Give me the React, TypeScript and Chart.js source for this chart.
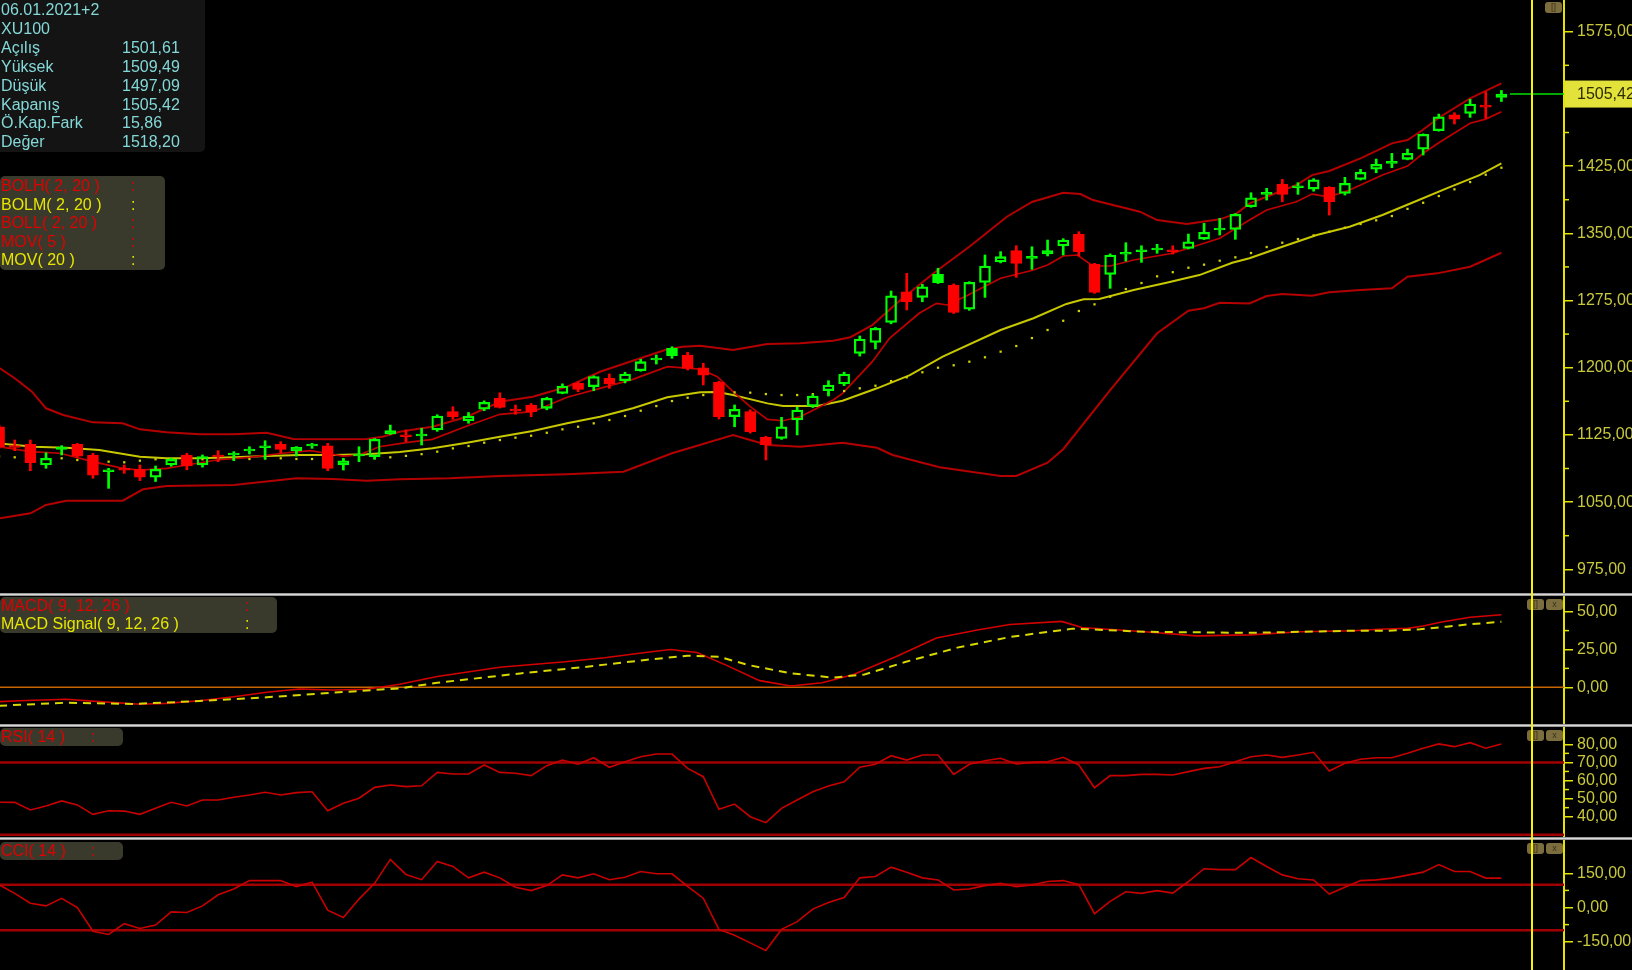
import React, { useEffect, useRef } from 'react';
import { Chart, registerables } from 'chart.js';

Chart.register(...registerables);

// ---------------- DATA ----------------
const opens = [1134.1, 1112.5, 1114.5, 1091.4, 1109.5, 1114.5, 1102.6, 1084.5, 1087.2, 1086.6,
  1077.7, 1091.4, 1102.6, 1091.4, 1101.9, 1103.2, 1107.6, 1111.3, 1114.5, 1107.4,
  1113.2, 1112.9, 1091.4, 1102.1, 1100.7, 1126.0, 1124.6, 1124.4, 1130.5, 1150.9,
  1140.8, 1153.6, 1165.8, 1153.3, 1158.4, 1154.7, 1171.4, 1182.6, 1178.8, 1188.2,
  1185.5, 1196.6, 1209.2, 1213.4, 1214.2, 1200.0, 1183.7, 1145.3, 1150.9, 1122.3,
  1121.2, 1141.6, 1157.2, 1174.3, 1181.8, 1216.0, 1228.3, 1250.6, 1284.8, 1278.5,
  1294.8, 1292.3, 1265.2, 1295.3, 1318.0, 1330.6, 1322.7, 1326.9, 1336.0, 1348.9,
  1315.7, 1304.2, 1327.2, 1330.1, 1332.0, 1331.1, 1333.2, 1343.6, 1354.3, 1354.4,
  1379.7, 1394.1, 1404.7, 1401.5, 1399.4, 1401.3, 1394.4, 1410.2, 1421.7, 1428.7,
  1432.6, 1444.0, 1464.5, 1482.3, 1483.9, 1492.5, 1501.61];
const highs = [1136, 1119.3, 1119.3, 1105.1, 1113, 1115.5, 1104.5, 1087.7, 1091.4, 1091.4,
  1090.3, 1099, 1104.5, 1102.6, 1107.4, 1106.3, 1111.8, 1118.5, 1117.4, 1112,
  1115.6, 1115.6, 1098.9, 1111.8, 1121, 1136, 1130.5, 1132.4, 1147.5, 1156.5,
  1150, 1163, 1172, 1158.4, 1160, 1167, 1182, 1184, 1191, 1193,
  1195, 1209.4, 1214.2, 1223.4, 1217.2, 1204.9, 1185, 1158.4, 1153, 1123.5,
  1144.6, 1155.8, 1170, 1185.5, 1195, 1235.4, 1245, 1285.6, 1305.3, 1293,
  1311, 1293.5, 1296, 1325.8, 1329.5, 1336.1, 1335, 1342.5, 1344, 1351.8,
  1316.5, 1327, 1339.5, 1336.1, 1337.7, 1336.1, 1349.2, 1361.1, 1366.7, 1372,
  1395.3, 1400.2, 1410.2, 1406.5, 1411, 1402, 1412.5, 1421.4, 1432.9, 1439.3,
  1444, 1461, 1483.1, 1484.6, 1499.5, 1508, 1509.49];
const lows = [1110, 1107.4, 1085, 1087.7, 1102.6, 1100, 1076.6, 1065.4, 1082.1, 1074,
  1073, 1090, 1086, 1089, 1095.1, 1096.2, 1103.7, 1097.8, 1105.1, 1101.4,
  1110, 1085, 1085.8, 1095.1, 1098, 1125.5, 1117.4, 1113.7, 1129, 1142.4,
  1138, 1152, 1155, 1148, 1145.3, 1153, 1170.9, 1173.2, 1174.3, 1177,
  1183, 1196, 1204.1, 1210.5, 1197.4, 1180.7, 1142.7, 1134.1, 1127, 1097,
  1120, 1124.9, 1155.5, 1168.4, 1180, 1213, 1220.9, 1249, 1264.4, 1273.6,
  1294, 1260.5, 1264, 1278.5, 1317, 1300.9, 1309.8, 1324.7, 1325.8, 1324.7,
  1283, 1288.6, 1319, 1317.6, 1327.7, 1326.9, 1332.5, 1343, 1348.1, 1343.3,
  1379, 1387.1, 1385.2, 1393.5, 1397, 1370.4, 1392.7, 1409.5, 1417.6, 1423.2,
  1432, 1437.4, 1464, 1472, 1479.4, 1478.3, 1497.09];
const closes = [1111.8, 1111.5, 1094, 1098.9, 1110.5, 1101.4, 1080.2, 1085.5, 1086.2, 1077.7,
  1086.6, 1097.8, 1090.3, 1100.7, 1100.9, 1104.2, 1108.6, 1112.3, 1108.9, 1111.2,
  1114.2, 1087.7, 1096.2, 1103.1, 1120.1, 1129.7, 1123.6, 1125.4, 1146.1, 1145.3,
  1146.1, 1161.4, 1155.8, 1152.3, 1150.9, 1165.8, 1179.6, 1175.9, 1190, 1181.8,
  1193, 1206.7, 1210.2, 1221.6, 1199.3, 1191.8, 1145.3, 1153.6, 1128.6, 1113.7,
  1134.1, 1152.8, 1168.4, 1180.7, 1193, 1232, 1244, 1280.3, 1273.6, 1290.4,
  1304.2, 1261.8, 1295.3, 1313.5, 1323.9, 1316.5, 1323.7, 1330.6, 1342.5, 1329.5,
  1284.1, 1325.8, 1328.2, 1331.1, 1333, 1330.1, 1340.6, 1351.1, 1355.3, 1371.2,
  1389.7, 1395.1, 1393.5, 1402.5, 1409.8, 1385.2, 1405.8, 1418, 1427, 1429.7,
  1439.3, 1460.5, 1480.1, 1477.5, 1494.3, 1491.5, 1505.42];
const filledUpBars = [25, 43, 60, 67];

const mov20 = [1101, 1100, 1099.5, 1099, 1098.9, 1097, 1096, 1095.1, 1094.4, 1096.2,
  1097.8, 1097, 1097.8, 1097.8, 1097.8, 1098.1, 1098.1, 1098.9, 1098.9, 1098.1,
  1098.1, 1097.5, 1097, 1097, 1098.9, 1100, 1101.6, 1103.5, 1106.3, 1110,
  1112.6, 1116.3, 1119.3, 1121.9, 1124.1, 1127.4, 1131.2, 1134.1, 1137.9, 1141.6,
  1146.1, 1152, 1157.2, 1162.8, 1166.5, 1169.5, 1171, 1172.5, 1172.1, 1170.6,
  1169.5, 1169.5, 1170.5, 1171.4, 1174, 1177, 1179.9, 1185.1, 1189.3, 1194.9,
  1200, 1202.7, 1206.7, 1211.6, 1217.9, 1224.2, 1233.1, 1242.1, 1252.4, 1263.3,
  1270.7, 1279.2, 1287.8, 1294.5, 1302, 1306.6, 1311.6, 1315, 1319.4, 1323.2,
  1328, 1334.7, 1339.5, 1343.6, 1347.7, 1351.8, 1356.2, 1360.4, 1364.5, 1369.3,
  1377.3, 1384.1, 1391.6, 1399.1, 1407.2, 1415.4, 1423.2];

// [bar position, value]
const bolUpper = [[0, 1200], [1, 1188.2], [2.1, 1173.2], [3, 1154.7], [4.1, 1147.2], [6, 1139], [7.9, 1137.9], [9, 1131.2], [10.7, 1127.9], [12.8, 1125.6], [15, 1125.6], [17.1, 1127.5], [18.8, 1120.4], [21.3, 1120.1], [23.5, 1120.4], [24.5, 1123], [25.6, 1128.6], [26.7, 1131.6], [27.7, 1134.1], [29.9, 1145.3], [32, 1162], [34.1, 1167.6], [36.3, 1178.8], [38.4, 1195.5], [40.5, 1207.8], [42.7, 1220.5], [43.7, 1223.4], [44.8, 1224.5], [46.9, 1219.7], [49.1, 1226.4], [51.2, 1227.2], [53.3, 1230.1], [54.4, 1234], [55.8, 1247.6], [57.6, 1275.5], [59.9, 1308], [62, 1335], [64.4, 1368.5], [66, 1385], [68, 1395.3], [69.1, 1393.8], [69.9, 1387.1], [72.9, 1374.1], [74, 1364.8], [75.9, 1360.4], [78, 1365.6], [79.1, 1372.3], [79.9, 1383.4], [81, 1390.8], [82.9, 1403.9], [83.9, 1415], [85, 1419.5], [87, 1433.7], [89, 1450.4], [90, 1454.1], [90.9, 1464.5], [92.1, 1480.1], [94, 1500.6], [96, 1517.4]];
const bolMid = [[0, 1115.5], [2.2, 1111.8], [4.3, 1110.7], [6.4, 1108.1], [9, 1100.7], [10.7, 1098.9], [12.8, 1098.9], [15, 1100], [17.1, 1101.4], [19.2, 1102.6], [21.3, 1102.6], [23.5, 1103.3], [25.6, 1106], [27.7, 1110], [29.9, 1116.3], [32, 1123], [34.1, 1129.3], [36.3, 1137.9], [38.4, 1145.3], [40.5, 1154.7], [42.7, 1167], [44.8, 1172.5], [45.9, 1173], [46.9, 1169.5], [49.1, 1160.2], [50.1, 1157.2], [52.3, 1157.2], [53.9, 1163.2], [56.1, 1177], [58.2, 1191.8], [60.3, 1212.3], [64, 1242.1], [66.1, 1255.2], [68.2, 1271.2], [69.3, 1276.3], [70.3, 1276.6], [72.5, 1286.7], [74.6, 1294.8], [76.7, 1303.4], [78.8, 1317.1], [79.9, 1322.1], [82, 1335], [84.2, 1348.1], [86.3, 1357.4], [88.4, 1370.4], [90.3, 1384.1], [92.5, 1400.2], [94.6, 1415], [96, 1428]];
const bolLower = [[0, 1031.9], [2, 1037.5], [3, 1046.8], [4.3, 1051.6], [7.9, 1051.6], [9.2, 1064.3], [10.7, 1068], [15, 1069.1], [19, 1076.6], [21.3, 1075.8], [23.5, 1073.9], [25.6, 1075.4], [28.8, 1076.6], [32, 1079.1], [36.3, 1081], [39.9, 1083.9], [43, 1104.5], [46.9, 1124.9], [49.1, 1113.7], [51.2, 1111.8], [53.9, 1116.3], [56.1, 1110.7], [57.1, 1102.6], [60.1, 1088.8], [64, 1079.1], [65, 1079.1], [67, 1094], [68, 1109], [71, 1175], [74, 1238.4], [76, 1263.6], [77, 1266.3], [78, 1272.5], [79.9, 1271.8], [81, 1280], [82, 1282.2], [83.9, 1280.3], [85, 1284.1], [87, 1286.7], [89, 1288.6], [90, 1301.5], [91.9, 1305.3], [94, 1312.7], [96, 1328.3]];
const mov5 = [[0, 1111.8], [2, 1106.3], [3.9, 1104.5], [6, 1095.1], [7.9, 1087.7], [9, 1085.8], [10.7, 1087.7], [12, 1091.4], [13.9, 1097], [16, 1100], [18.1, 1104.5], [19.9, 1107.4], [20.7, 1105.1], [22, 1101.4], [23, 1102.6], [24.3, 1111.8], [26, 1116.3], [27.7, 1120.1], [29.9, 1134.9], [32, 1148], [34.1, 1150.9], [36.3, 1167], [38.4, 1177], [40.5, 1187], [42.7, 1201.1], [44.8, 1198.5], [45.9, 1190], [46.9, 1173.2], [48, 1156.5], [49.1, 1142.4], [50.1, 1140.8], [51.2, 1145.3], [53.3, 1164], [53.9, 1171.4], [55.8, 1206.7], [56.9, 1232.8], [58.8, 1260.7], [59.9, 1271.8], [60.6, 1270], [61.8, 1280], [64, 1299.8], [66.1, 1309], [67, 1314.6], [68, 1324.7], [68.9, 1325.8], [69.9, 1313.5], [71, 1313.5], [72.5, 1320.2], [75, 1327.7], [78, 1344.5], [79.9, 1364.8], [81, 1376], [82.9, 1385.2], [83.9, 1393.8], [85, 1390.8], [86.3, 1398.3], [88.4, 1415], [90, 1425], [91, 1439.3], [92.1, 1452.2], [94, 1472.8], [95, 1477.5], [96, 1485.7]];

const macdLine = [[0, -9.5], [1.3, -8.9], [4.3, -7.9], [6.4, -9.5], [9, -11.2], [10.7, -10.6], [12.8, -8.9], [15, -6.2], [17.1, -3.3], [19.2, -1.1], [21.3, -1.8], [23.5, -1.3], [25.6, 2], [28, 7.1], [32, 13.3], [36, 16.7], [38.7, 19.5], [41.3, 23], [42.9, 25], [44.6, 23], [46.6, 14], [48.6, 4.4], [50.6, 0.9], [52.6, 3], [54.6, 8.5], [57.3, 20.2], [59.9, 32.6], [62.6, 38.1], [64.6, 41.5], [67.9, 43.6], [69.2, 39.5], [73.2, 36.7], [76.5, 34], [79.9, 34.7], [83.2, 36.7], [86.5, 37.4], [88.2, 38.4], [90, 39], [91, 40.5], [92.1, 43], [94, 46.3], [96, 48]];
const macdSignal = [[0, -12.2], [4.3, -10.2], [8.6, -11], [12.8, -9.1], [17.1, -6.6], [21.3, -3.6], [25.6, -0.7], [28, 3], [33.3, 9.2], [37.3, 13.3], [41.3, 18.1], [44, 20.9], [46, 20.2], [47.9, 14.7], [50.6, 9.2], [53.3, 6.4], [55.3, 8.5], [57.9, 16.7], [61.3, 26.4], [64.6, 33.3], [68.6, 38.8], [73.2, 36.7], [79.9, 36], [86.5, 37.4], [88.7, 37.4], [90.8, 38.4], [92.5, 40.1], [94, 41.7], [96, 43.4]];

const rsi14 = [48, 47.9, 43.7, 45.9, 48.7, 46.5, 41.3, 43.3, 43.1, 41.3,
  44.6, 48, 45.9, 49.2, 49.2, 50.7, 52, 53.5, 52, 53.3,
  53.8, 43.3, 47.4, 50.2, 56.2, 57.5, 56.6, 57.1, 64.5, 63.6,
  63.6, 68.6, 64.5, 64, 62.7, 68.2, 71.3, 69, 72.6, 67.3,
  70.4, 73.1, 74.6, 74.6, 66.7, 62.1, 44.1, 47, 40, 36.7,
  44.6, 49.2, 53.8, 57, 59.3, 67.3, 69, 73.7, 71.3, 74.1,
  74.1, 63.4, 69, 70.9, 72.3, 69.1, 70, 70.4, 72.8, 68.6,
  56, 62.7, 62.7, 63.4, 63.4, 63, 64.9, 66.7, 67.6, 70.4,
  73.1, 74.1, 72.8, 74.1, 75.6, 65.3, 69.5, 71.7, 72.6, 72.6,
  75, 77.8, 80.2, 78.7, 80.9, 77.8, 80.2];
const cci14 = [100, 62, 19, 7, 40, 0, -104, -118, -71, -92,
  -77, -19, -22, 7, 56, 81, 118, 118, 118, 91,
  111, -12, -44, 37, 106, 211, 145, 122, 202, 180,
  130, 155, 130, 89, 74, 96, 143, 130, 148, 122,
  133, 158, 148, 148, 93, 41, -96, -122, -155, -188,
  -96, -62, -7, 22, 44, 130, 136, 177, 155, 130,
  121, 77, 81, 96, 106, 91, 99, 114, 118, 100,
  -27, 27, 69, 62, 74, 63, 114, 170, 166, 166,
  219, 180, 143, 126, 121, 59, 89, 118, 121, 129,
  142, 155, 188, 158, 158, 129, 129];

const priceMajorTicks = [975, 1050, 1125, 1200, 1275, 1350, 1425, 1500, 1575];
const priceMinorTicks = [1012.5, 1087.5, 1162.5, 1237.5, 1312.5, 1387.5, 1462.5, 1537.5];
const macdMajorTicks = [0, 25, 50];
const macdMinorTicks = [12.5, 37.5];
const rsiMajorTicks = [40, 50, 60, 70, 80];
const rsiMinorTicks = [45, 55, 65, 75];
const cciMajorTicks = [-150, 0, 150];
const cciMinorTicks = [-75, 75];
const rsiLevels = [70, 30];
const cciLevels = [100, -100];

const infoHeader = ['06.01.2021+2', 'XU100'];
const infoLabels = ['Açılış', 'Yüksek', 'Düşük', 'Kapanış', 'Ö.Kap.Fark', 'Değer'];
const infoValues = ['1501,61', '1509,49', '1497,09', '1505,42', '15,86', '1518,20'];

// ---------------- STYLE ----------------
const FONT = '"Liberation Sans", Arial, sans-serif';
const W = 1632;
const H = 970;
const AXIS_W = 68;
const X_MIN = 0.06;
const X_MAX = 100;
const GREEN = '#00ff00';
const RED = '#ff0000';
const BAND = '#b40000';
const YEL_LINE = '#c8c800';
const AXIS_LINE = '#e4e400';
const AXIS_TEXT = '#c8c83c';
const LEG_RED = '#e00000';
const LEG_YEL = '#e6e600';

const fmt = (v: number) => v.toFixed(2).replace('.', ',');
const pts = (arr: number[][]) => arr.map(([x, y]) => ({ x, y }));

function yAxis(min: number, max: number, majors: number[], minors: number[]) {
  const all = [...majors, ...minors];
  return {
    type: 'linear',
    position: 'right',
    min,
    max,
    bounds: 'data',
    beginAtZero: false,
    afterFit: (s: any) => {
      s.width = AXIS_W;
      s.paddingTop = 0;
      s.paddingBottom = 0;
      s.paddingLeft = 0;
      s.paddingRight = 0;
    },
    afterBuildTicks: (s: any) => { s.ticks = all.map((v) => ({ value: v })); },
    ticks: {
      autoSkip: false,
      padding: 4,
      color: AXIS_TEXT,
      font: { family: FONT, size: 16 },
      callback: (v: number) => (majors.includes(v) ? fmt(v) : ''),
    },
    grid: {
      display: true,
      drawOnChartArea: false,
      drawTicks: true,
      tickLength: 9,
      lineWidth: 1.5,
      color: (ctx: any) => (ctx.tick && majors.includes(ctx.tick.value) ? AXIS_LINE : 'rgba(0,0,0,0)'),
    },
    border: { display: true, color: AXIS_LINE, width: 2 },
  };
}

function extras(id: string, minors: number[], levels: { v: number; c: string; w: number }[]) {
  return {
    id,
    beforeDatasetsDraw(chart: any) {
      const { ctx, chartArea } = chart;
      const y = chart.scales.y;
      ctx.save();
      levels.forEach((l) => {
        const py = y.getPixelForValue(l.v);
        ctx.strokeStyle = l.c;
        ctx.lineWidth = l.w;
        ctx.beginPath();
        ctx.moveTo(chartArea.left, py);
        ctx.lineTo(chartArea.right, py);
        ctx.stroke();
      });
      ctx.restore();
    },
    afterDraw(chart: any) {
      const { ctx, chartArea } = chart;
      const y = chart.scales.y;
      ctx.save();
      ctx.strokeStyle = AXIS_LINE;
      ctx.lineWidth = 1.5;
      minors.forEach((v) => {
        const py = y.getPixelForValue(v);
        ctx.beginPath();
        ctx.moveTo(chartArea.right, py);
        ctx.lineTo(chartArea.right + 5, py);
        ctx.stroke();
      });
      ctx.restore();
    },
  };
}

function baseOptions(yScale: any) {
  return {
    responsive: false,
    maintainAspectRatio: false,
    animation: false,
    devicePixelRatio: 1,
    layout: { padding: 0, autoPadding: false },
    events: [],
    plugins: { legend: { display: false }, tooltip: { enabled: false } },
    scales: {
      x: { type: 'linear', min: X_MIN, max: X_MAX, display: false, offset: false },
      y: yScale,
    },
  };
}

function lineDs(data: any[], color: string, width: number, order = 5, dash: number[] = []) {
  return {
    type: 'line',
    data,
    borderColor: color,
    borderWidth: width,
    borderDash: dash,
    pointRadius: 0,
    tension: 0,
    fill: false,
    order,
  };
}

function buildMain() {
  const n = closes.length;
  const idx = closes.map((_, i) => i);
  const isDown = (i: number) => closes[i] < opens[i];
  const body = (i: number) => {
    let lo = Math.min(opens[i], closes[i]);
    let hi = Math.max(opens[i], closes[i]);
    if (hi - lo < 2.2) {
      const m = (hi + lo) / 2;
      lo = m - 1.1;
      hi = m + 1.1;
    }
    return [lo, hi];
  };
  const solid = (i: number) => isDown(i) || filledUpBars.includes(i) || Math.abs(closes[i] - opens[i]) < 4;
  const col = (i: number) => (isDown(i) ? RED : GREEN);
  const lastX = n - 1 + 0.55;
  const lastPricePlugin = {
    id: 'lastPrice',
    afterDraw(chart: any) {
      const { ctx, chartArea } = chart;
      const py = chart.scales.y.getPixelForValue(closes[n - 1]);
      ctx.save();
      ctx.fillStyle = '#e2e23a';
      ctx.fillRect(chartArea.right + 1, py - 13.5, AXIS_W, 27);
      ctx.fillStyle = '#2c2c00';
      ctx.font = `16px ${FONT}`;
      ctx.textBaseline = 'middle';
      ctx.fillText(fmt(closes[n - 1]), chartArea.right + 13, py + 1);
      ctx.restore();
    },
  };
  return {
    type: 'bar',
    data: {
      datasets: [
        {
          type: 'bar',
          data: idx.map((i) => ({ x: i, y: body(i) })),
          backgroundColor: idx.map((i) => (solid(i) ? col(i) : 'rgba(0,0,0,0)')),
          borderColor: idx.map(col),
          borderWidth: 1.6,
          borderSkipped: false,
          barThickness: 11,
          grouped: false,
          order: 0,
        },
        {
          type: 'bar',
          data: idx.map((i) => ({ x: i, y: [body(i)[1], highs[i]] })),
          backgroundColor: idx.map(col),
          borderWidth: 0,
          barThickness: 2,
          grouped: false,
          order: 1,
        },
        {
          type: 'bar',
          data: idx.map((i) => ({ x: i, y: [lows[i], body(i)[0]] })),
          backgroundColor: idx.map(col),
          borderWidth: 0,
          barThickness: 2,
          grouped: false,
          order: 1,
        },
        lineDs(pts(bolUpper), BAND, 2),
        lineDs(pts(bolLower), BAND, 2),
        lineDs(pts(mov5), '#c00000', 1.7),
        lineDs(pts(bolMid), YEL_LINE, 2),
        {
          type: 'line',
          data: mov20.map((v, i) => ({ x: i, y: v })),
          showLine: false,
          pointRadius: 1.6,
          pointStyle: 'rect',
          pointBackgroundColor: '#d2d200',
          pointBorderWidth: 0,
          order: 4,
        },
        lineDs([{ x: lastX, y: closes[n - 1] }, { x: X_MAX, y: closes[n - 1] }], '#00e000', 1.6, 2),
      ],
    },
    options: baseOptions(yAxis(948.55, 1610.4, priceMajorTicks, priceMinorTicks)),
    plugins: [extras('exMain', priceMinorTicks, []), lastPricePlugin],
  };
}

function buildMacd() {
  return {
    type: 'line',
    data: {
      datasets: [
        lineDs(pts(macdLine), '#d40000', 1.6, 2),
        lineDs(pts(macdSignal), '#d8d800', 2, 1, [8, 6]),
      ],
    },
    options: baseOptions(yAxis(-24.27, 60.38, macdMajorTicks, macdMinorTicks)),
    plugins: [extras('exMacd', macdMinorTicks, [{ v: 0, c: '#c86400', w: 1.5 }])],
  };
}

function buildRsi() {
  return {
    type: 'line',
    data: { datasets: [lineDs(rsi14.map((v, i) => ({ x: i, y: v })), '#c80000', 1.6)] },
    options: baseOptions(yAxis(28.78, 89.56, rsiMajorTicks, rsiMinorTicks)),
    plugins: [extras('exRsi', rsiMinorTicks, rsiLevels.map((v) => ({ v, c: '#a00000', w: 2.5 })))],
  };
}

function buildCci() {
  return {
    type: 'line',
    data: { datasets: [lineDs(cci14.map((v, i) => ({ x: i, y: v })), '#c80000', 1.6)] },
    options: baseOptions(yAxis(-274, 296, cciMajorTicks, cciMinorTicks)),
    plugins: [extras('exCci', cciMinorTicks, cciLevels.map((v) => ({ v, c: '#a00000', w: 2.5 })))],
  };
}

function Panel({ top, height, build }: { top: number; height: number; build: () => any }) {
  const ref = useRef<HTMLCanvasElement>(null);
  useEffect(() => {
    const chart = new Chart(ref.current as HTMLCanvasElement, build() as any);
    return () => chart.destroy();
  }, []);
  return (
    <canvas
      ref={ref}
      width={W}
      height={height}
      style={{ position: 'absolute', left: 0, top, width: W, height, display: 'block' }}
    />
  );
}

const sep = (top: number): React.CSSProperties => ({
  position: 'absolute',
  left: 0,
  top,
  width: W,
  height: 3,
  background: 'linear-gradient(#7a7a7a, #d8d8d8 50%, #7a7a7a)',
});

function Btn({ left, top, label }: { left: number; top: number; label: string }) {
  return (
    <div
      style={{
        position: 'absolute',
        left,
        top,
        width: 17,
        height: 11,
        borderRadius: 3,
        background: '#7c6d3e',
        color: '#3a3218',
        fontSize: 9,
        lineHeight: '11px',
        textAlign: 'center',
        fontFamily: FONT,
      }}
    >
      {label}
    </div>
  );
}

const text = (color: string): React.CSSProperties => ({
  position: 'absolute',
  color,
  fontSize: 16,
  lineHeight: '18px',
  whiteSpace: 'pre',
  fontFamily: FONT,
});

export default function App() {
  const bolLegend = [
    ['BOLH( 2, 20 )', LEG_RED],
    ['BOLM( 2, 20 )', LEG_YEL],
    ['BOLL( 2, 20 )', LEG_RED],
    ['MOV( 5 )', LEG_RED],
    ['MOV( 20 )', LEG_YEL],
  ];
  const infoColor = '#84d8d8';
  return (
    <div style={{ position: 'fixed', left: 0, top: 0, width: W, height: H, background: '#000', overflow: 'hidden' }}>
      <Panel top={0} height={593} build={buildMain} />
      <div style={sep(593)} />
      <Panel top={596} height={128} build={buildMacd} />
      <div style={sep(724)} />
      <Panel top={727} height={110} build={buildRsi} />
      <div style={sep(837)} />
      <Panel top={840} height={130} build={buildCci} />

      {/* info box */}
      <div style={{ position: 'absolute', left: 0, top: 0, width: 205, height: 152, background: '#141414', borderBottomRightRadius: 5 }} />
      {infoHeader.map((t, k) => (
        <div key={'h' + k} style={{ ...text(infoColor), left: 1, top: 1 + 18.9 * k }}>{t}</div>
      ))}
      {infoLabels.map((t, k) => (
        <div key={'l' + k} style={{ ...text(infoColor), left: 1, top: 1 + 18.9 * (k + 2) }}>{t}</div>
      ))}
      {infoValues.map((t, k) => (
        <div key={'v' + k} style={{ ...text(infoColor), left: 122, top: 1 + 18.9 * (k + 2) }}>{t}</div>
      ))}

      {/* indicator legend */}
      <div style={{ position: 'absolute', left: 0, top: 176, width: 165, height: 94, background: '#3a3a2c', borderRadius: 5 }} />
      {bolLegend.map(([t, c], k) => (
        <React.Fragment key={'b' + k}>
          <div style={{ ...text(c), left: 1, top: 177 + 18.6 * k }}>{t}</div>
          <div style={{ ...text(c), left: 131, top: 177 + 18.6 * k }}>:</div>
        </React.Fragment>
      ))}

      <div style={{ position: 'absolute', left: 0, top: 597, width: 277, height: 36, background: '#3a3a2c', borderRadius: 5 }} />
      <div style={{ ...text(LEG_RED), left: 1, top: 597 }}>MACD( 9, 12, 26 )</div>
      <div style={{ ...text(LEG_RED), left: 245, top: 597 }}>:</div>
      <div style={{ ...text(LEG_YEL), left: 1, top: 615 }}>MACD Signal( 9, 12, 26 )</div>
      <div style={{ ...text(LEG_YEL), left: 245, top: 615 }}>:</div>

      <div style={{ position: 'absolute', left: 0, top: 728, width: 123, height: 18, background: '#3a3a2c', borderRadius: 5 }} />
      <div style={{ ...text(LEG_RED), left: 1, top: 728 }}>RSI( 14 )</div>
      <div style={{ ...text(LEG_RED), left: 91, top: 728 }}>:</div>

      <div style={{ position: 'absolute', left: 0, top: 842, width: 123, height: 18, background: '#3a3a2c', borderRadius: 5 }} />
      <div style={{ ...text(LEG_RED), left: 1, top: 842 }}>CCI( 14 )</div>
      <div style={{ ...text(LEG_RED), left: 91, top: 842 }}>:</div>

      {/* panel buttons */}
      <Btn left={1545} top={2} label="[]" />
      <Btn left={1527} top={599} label="[]" />
      <Btn left={1546} top={599} label="x" />
      <Btn left={1527} top={730} label="[]" />
      <Btn left={1546} top={730} label="x" />
      <Btn left={1527} top={843} label="[]" />
      <Btn left={1546} top={843} label="x" />

      {/* crosshair */}
      <div style={{ position: 'absolute', left: 1531, top: 0, width: 2, height: H, background: '#f4f400' }} />
    </div>
  );
}
